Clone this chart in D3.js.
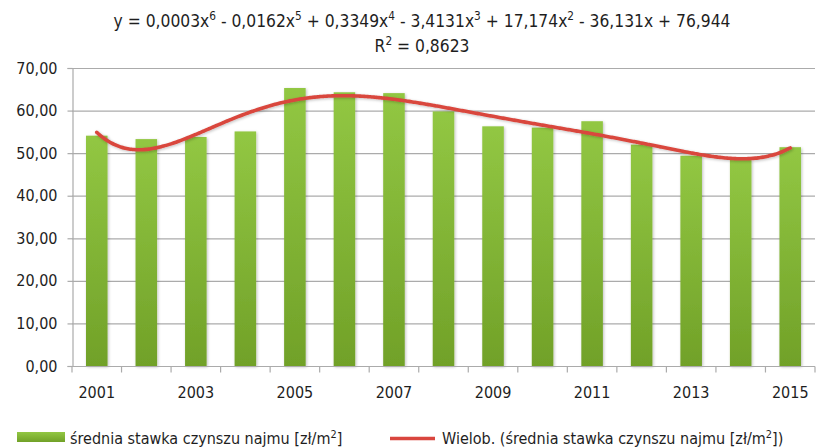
<!DOCTYPE html>
<html>
<head>
<meta charset="utf-8">
<script src="https://cdn.jsdelivr.net/npm/d3@7"></script>
<style>
  html, body { margin: 0; padding: 0; background: #fff; }
  svg { display: block; }
  text { font-family: "Liberation Sans Narrow", "DejaVu Sans Condensed", "Open Sans", sans-serif; fill: #1e1e1e; }
</style>
</head>
<body>
<svg id="chart" width="830" height="448"></svg>
<script>
// Average rent per m² by year
const years = [2001, 2002, 2003, 2004, 2005, 2006, 2007, 2008, 2009, 2010, 2011, 2012, 2013, 2014, 2015];
const rents = [54.1, 53.3, 53.8, 55.1, 65.3, 64.3, 64.1, 59.8, 56.3, 56.0, 57.5, 52.0, 49.4, 48.5, 51.4];
const yTicks = [0, 10, 20, 30, 40, 50, 60, 70];
const xLabelYears = [2001, 2003, 2005, 2007, 2009, 2011, 2013, 2015];
// Text segments: [normal, superscript]
const equationParts = [
  ["y = 0,0003x", "6"], [" - 0,0162x", "5"], [" + 0,3349x", "4"], [" - 3,4131x", "3"],
  [" + 17,174x", "2"], [" - 36,131x + 76,944", ""]
];
const r2Parts = [["R", "2"], [" = 0,8623", ""]];
const seriesParts = [["średnia stawka czynszu najmu [zł/m", "2"], ["]", ""]];
const trendParts = [["Wielob. (średnia stawka czynszu najmu [zł/m", "2"], ["])", ""]];

const svg = d3.select("#chart");
const plot = { left: 72, right: 815, top: 68, bottom: 366 };

const x = d3.scaleBand().domain(years).range([plot.left, plot.right]).paddingInner(0.565).paddingOuter(0.2825);
const xc = d3.scaleLinear().domain([years[0], years[years.length - 1]])
  .range([x(years[0]) + x.bandwidth() / 2, x(years[years.length - 1]) + x.bandwidth() / 2]);
const y = d3.scaleLinear().domain([0, 70]).range([plot.bottom, plot.top]);

const defs = svg.append("defs");
const grad = defs.append("linearGradient").attr("id", "barFill").attr("x1", 0).attr("y1", 0).attr("x2", 0).attr("y2", 1);
grad.append("stop").attr("offset", "0%").attr("stop-color", "#92c743");
grad.append("stop").attr("offset", "100%").attr("stop-color", "#71a128");
const shadow = defs.append("filter").attr("id", "soft").attr("x", "-20%").attr("y", "-20%").attr("width", "140%").attr("height", "140%");
shadow.append("feGaussianBlur").attr("in", "SourceAlpha").attr("stdDeviation", 1.5).attr("result", "b");
shadow.append("feOffset").attr("in", "b").attr("dx", 1).attr("dy", 1).attr("result", "o");
shadow.append("feComponentTransfer").attr("in", "o").attr("result", "s")
  .append("feFuncA").attr("type", "linear").attr("slope", 0.25);
const merge = shadow.append("feMerge");
merge.append("feMergeNode").attr("in", "s");
merge.append("feMergeNode").attr("in", "SourceGraphic");

// Horizontal gridlines
svg.append("g").selectAll("line").data(yTicks.filter(d => d > 0)).join("line")
  .attr("x1", plot.left).attr("x2", plot.right)
  .attr("y1", d => y(d) + 0.5).attr("y2", d => y(d) + 0.5)
  .attr("stroke", "#ababab").attr("stroke-width", 1.2);

// Y axis
const yAxis = svg.append("g").attr("transform", `translate(${plot.left + 0.5},0)`)
  .call(d3.axisLeft(y).tickValues(yTicks).tickSize(5).tickPadding(10)
    .tickFormat(d => d3.format(".2f")(d).replace(".", ",")));
yAxis.select(".domain").attr("stroke", "#ababab").attr("stroke-width", 1.2);
yAxis.selectAll(".tick line").attr("stroke", "#ababab").attr("stroke-width", 1.2);
yAxis.selectAll(".tick text").style("font-size", "16px").attr("fill", "#1e1e1e");

// Bars
svg.append("g").selectAll("rect").data(years).join("rect")
  .attr("x", d => x(d)).attr("width", x.bandwidth())
  .attr("y", (d, i) => y(rents[i])).attr("height", (d, i) => y(0) - y(rents[i]))
  .attr("fill", "url(#barFill)").attr("filter", "url(#soft)");

// X axis with ticks on category boundaries
const xAxisG = svg.append("g").attr("transform", `translate(0,${plot.bottom + 0.5})`);
xAxisG.append("line").attr("x1", plot.left).attr("x2", plot.right).attr("stroke", "#ababab").attr("stroke-width", 1.2);
const bounds = d3.range(years.length + 1).map(i => plot.left + i * (plot.right - plot.left) / years.length);
xAxisG.selectAll("line.tk").data(bounds).join("line").attr("class", "tk")
  .attr("x1", d => d).attr("x2", d => d).attr("y1", 0).attr("y2", 6)
  .attr("stroke", "#ababab").attr("stroke-width", 1.2);
xAxisG.selectAll("text").data(xLabelYears).join("text")
  .attr("x", d => x(d) + x.bandwidth() / 2).attr("y", 31)
  .attr("text-anchor", "middle").style("font-size", "16px").text(d => d);

// Polynomial (order 6) least-squares trend of the bar values
function polyFit(xs, ys, deg) {
  const n = deg + 1;
  const A = Array.from({ length: n }, () => new Array(n + 1).fill(0));
  xs.forEach((xv, k) => {
    const p = d3.range(2 * n).map(j => Math.pow(xv, j));
    for (let r = 0; r < n; r++) {
      for (let c = 0; c < n; c++) A[r][c] += p[r + c];
      A[r][n] += ys[k] * p[r];
    }
  });
  for (let i = 0; i < n; i++) {
    let mx = i;
    for (let r = i + 1; r < n; r++) if (Math.abs(A[r][i]) > Math.abs(A[mx][i])) mx = r;
    [A[i], A[mx]] = [A[mx], A[i]];
    for (let r = 0; r < n; r++) {
      if (r === i) continue;
      const f = A[r][i] / A[i][i];
      for (let c = i; c <= n; c++) A[r][c] -= f * A[i][c];
    }
  }
  return A.map((row, i) => row[n] / row[i]);
}
const mid = 8, half = 7;
const ts = years.map((d, i) => (i + 1 - mid) / half);
const coef = polyFit(ts, rents, 6);
const trendAt = xv => coef.reduce((s, c, j) => s + c * Math.pow((xv - mid) / half, j), 0);
const trendPts = d3.range(1, 15.001, 0.05).map(xv => [years[0] + xv - 1, trendAt(xv)]);

const line = d3.line().x(d => xc(d[0])).y(d => y(d[1])).curve(d3.curveBasis);
svg.append("path").datum(trendPts).attr("d", line)
  .attr("fill", "none").attr("stroke", "#d9463e").attr("stroke-width", 3.6)
  .attr("stroke-linecap", "round").attr("filter", "url(#soft)");

// Text with superscripts
function richText(g, parts, xPos, yPos, anchor, size) {
  const t = g.append("text").attr("x", xPos).attr("y", yPos)
    .attr("text-anchor", anchor).style("font-size", size + "px");
  const lift = Math.round(size * 0.38);
  let raised = false;
  parts.forEach(([normal, sup]) => {
    const a = t.append("tspan").text(normal);
    if (raised) { a.attr("dy", lift); raised = false; }
    if (sup) {
      t.append("tspan").attr("dy", -lift).style("font-size", (size * 0.68) + "px").text(sup);
      raised = true;
    }
  });
  return t;
}

// Trend equation and R²
richText(svg, equationParts, 422, 27, "middle", 17.3);
richText(svg, r2Parts, 422, 52, "middle", 17.3);

// Legend
const leg = svg.append("g");
leg.append("rect").attr("x", 17).attr("y", 432).attr("width", 48).attr("height", 10).attr("fill", "url(#barFill)");
richText(leg, seriesParts, 70, 444, "start", 16);
leg.append("line").attr("x1", 390).attr("x2", 435).attr("y1", 438.5).attr("y2", 438.5)
  .attr("stroke", "#d9463e").attr("stroke-width", 3.6);
richText(leg, trendParts, 442, 444, "start", 16);
</script>
</body>
</html>
